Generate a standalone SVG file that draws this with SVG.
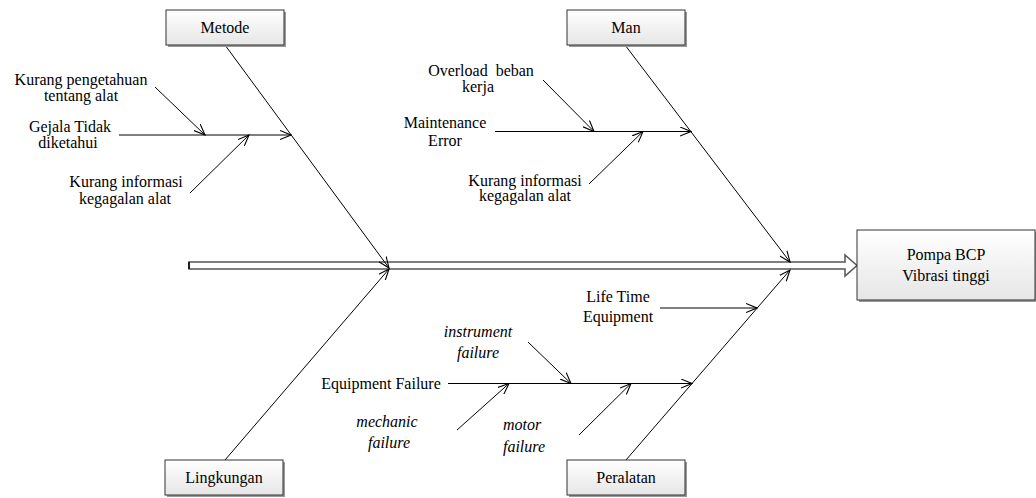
<svg xmlns="http://www.w3.org/2000/svg" width="1036" height="498" viewBox="0 0 1036 498">
<defs>
<linearGradient id="bg" x1="0" y1="0" x2="0" y2="1">
<stop offset="0" stop-color="#ffffff"/>
<stop offset="1" stop-color="#e6e6e6"/>
</linearGradient>
<marker id="ah" viewBox="0 0 12 10" refX="11" refY="5" markerWidth="12" markerHeight="10" markerUnits="userSpaceOnUse" orient="auto">
<path d="M0,0.5 L11,5 L0,9.5" fill="none" stroke="#000" stroke-width="1.1"/>
</marker>
</defs>
<style>
.box{fill:url(#bg);stroke:#333;stroke-width:1}
.sh{fill:#9a9a9a}
.i{font-style:italic}
.ar{stroke:#000;stroke-width:1;fill:none;marker-end:url(#ah)}
</style>
<rect width="1036" height="498" fill="#fff"/>

<g id="connectors">
<polygon points="189,262 845,262 845,255 857,265.5 845,276 845,269 189,269" fill="#fff" stroke="#555" stroke-width="1.5"/>
<line x1="189" y1="262" x2="189" y2="269" stroke="#000" stroke-width="1.5"/>
<line class="ar" x1="225" y1="45" x2="389" y2="268"/>
<line class="ar" x1="225" y1="460" x2="389" y2="269"/>
<line class="ar" x1="625" y1="45" x2="790" y2="262"/>
<line class="ar" x1="626" y1="460" x2="790" y2="270"/>

<line class="ar" x1="119" y1="135" x2="291" y2="135"/>
<line class="ar" x1="155" y1="87" x2="205" y2="135"/>
<line class="ar" x1="190" y1="193" x2="249" y2="135"/>

<line class="ar" x1="495" y1="131.5" x2="691" y2="131.5"/>
<line class="ar" x1="543" y1="80" x2="594" y2="131.5"/>
<line class="ar" x1="589" y1="184" x2="643" y2="131.5"/>

<line class="ar" x1="660" y1="308" x2="757" y2="308"/>

<line class="ar" x1="448" y1="383.5" x2="692" y2="383.5"/>
<line class="ar" x1="528" y1="342" x2="571" y2="383.5"/>
<line class="ar" x1="457" y1="430" x2="509" y2="383.5"/>
<line class="ar" x1="579" y1="435" x2="631" y2="383.5"/>
</g>

<g font-family="Liberation Serif, Times New Roman, Tinos, DejaVu Serif, Noto Serif, serif" font-size="16" text-anchor="middle" fill="#000">
<g id="metode">
<rect class="sh" x="168" y="12" width="118" height="35"/>
<rect class="box" x="166" y="10" width="118" height="35"/>
<text x="225" y="33">Metode</text>
</g>
<g id="man">
<rect class="sh" x="569" y="12" width="118" height="35"/>
<rect class="box" x="567" y="10" width="118" height="35"/>
<text x="626" y="33">Man</text>
</g>
<g id="lingkungan">
<rect class="sh" x="167" y="462" width="118" height="35"/>
<rect class="box" x="165" y="460" width="118" height="35"/>
<text x="224" y="483">Lingkungan</text>
</g>
<g id="peralatan">
<rect class="sh" x="569" y="462" width="118" height="35"/>
<rect class="box" x="567" y="460" width="118" height="35"/>
<text x="626" y="483">Peralatan</text>
</g>
<g id="pompa">
<rect class="sh" x="859" y="232" width="178" height="70"/>
<rect class="box" x="857" y="230" width="178" height="70"/>
<text x="946" y="260">Pompa BCP</text>
<text x="946" y="281">Vibrasi tinggi</text>
</g>

<g id="kurang-pengetahuan">
<text x="81" y="85">Kurang pengetahuan</text>
<text x="81" y="101">tentang alat</text>
</g>
<g id="gejala">
<text x="70" y="132">Gejala Tidak</text>
<text x="68" y="148">diketahui</text>
</g>
<g id="kurang-informasi-1">
<text x="126" y="187">Kurang informasi</text>
<text x="125" y="204">kegagalan alat</text>
</g>
<g id="overload">
<text x="481" y="76" xml:space="preserve">Overload  beban</text>
<text x="478" y="92">kerja</text>
</g>
<g id="maintenance">
<text x="445" y="128">Maintenance</text>
<text x="445" y="146">Error</text>
</g>
<g id="kurang-informasi-2">
<text x="525" y="186">Kurang informasi</text>
<text x="525" y="201">kegagalan alat</text>
</g>
<g id="lifetime">
<text x="618" y="302">Life Time</text>
<text x="618" y="322">Equipment</text>
</g>
<g id="equipment-failure">
<text x="381" y="389">Equipment Failure</text>
</g>
<g id="instrument">
<text class="i" x="478" y="337">instrument</text>
<text class="i" x="478" y="358">failure</text>
</g>
<g id="mechanic">
<text class="i" x="387" y="427">mechanic</text>
<text class="i" x="389" y="448">failure</text>
</g>
<g id="motor">
<text class="i" x="522" y="430">motor</text>
<text class="i" x="524" y="452">failure</text>
</g>
</g>
</svg>
